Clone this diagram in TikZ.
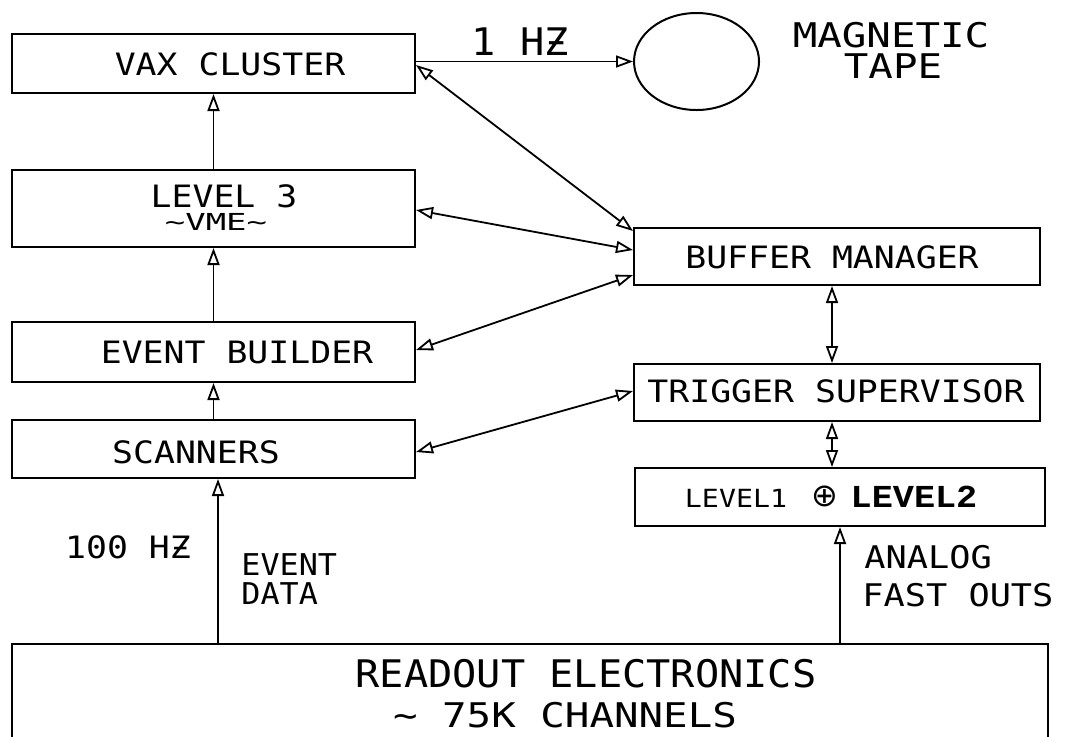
\documentclass[tikz,border=0pt]{standalone}
\usepackage{fontspec}
\usetikzlibrary{arrows.meta,shapes.geometric}
\newfontfamily\plotA[FakeStretch=1.13]{DejaVu Sans Mono}
\newfontfamily\plotB[FakeStretch=1.06]{DejaVu Sans Mono}
\newfontfamily\plotC[FakeStretch=1.45]{DejaVu Sans Mono}
\newfontfamily\plotD[FakeStretch=1.2]{DejaVu Sans Mono}
\newfontfamily\slabfont[FakeStretch=1.1]{Liberation Mono}
\tikzset{
  box/.style n args={2}{draw, line width=1pt, inner sep=0pt,
    minimum width=#1*0.5pt, minimum height=#2*0.5pt},
  lab/.style={inner sep=0pt, anchor=base},
  labA/.style={lab, font=\plotA\fontsize{15.4}{18}\selectfont},
  labB/.style={lab, font=\plotB\fontsize{19}{22}\selectfont},
  labD/.style={lab, font=\plotD\fontsize{17}{20}\selectfont},
  labS/.style={lab, anchor=base west, font=\plotA\fontsize{15.6}{18}\selectfont},
  tipo/.tip={Triangle[open, length=8.5pt, width=6pt]},
  conn/.style={line width=0.9pt, -tipo},
  biconn/.style={line width=0.9pt, tipo-tipo},
}
\begin{document}
\begin{tikzpicture}[x=0.5pt, y=-0.5pt]
\useasboundingbox (0,0) rectangle (1068,736);
\clip (0,0) rectangle (1068,736);

% boxes
\node[box={403}{59}] (vax) at (213.5,63.5) {};
\node[box={403}{77}] (l3)  at (213.5,208.5) {};
\node[box={403}{60}] (eb)  at (213.5,352) {};
\node[box={403}{58}] (sc)  at (213.5,449) {};
\node[box={406}{57}] (bm)  at (837,256.5) {};
\node[box={406}{57}] (ts)  at (837,392.5) {};
\node[box={410}{58}] (l1)  at (840,497) {};
\node[box={1036}{160}] (ro) at (530,724) {};
\node[draw, line width=1pt, ellipse, inner sep=0pt,
      minimum width=62.5pt, minimum height=48.5pt] (tape) at (696.5,61.5) {};

% labels
\node[labA] (tvax) at (230,75) {VAX CLUSTER};
\node[labA] (tl3)  at (224,207) {LEVEL 3};
\node[lab, font=\plotC\fontsize{11.7}{14}\selectfont] (tvme) at (216,230) {\char`~VME\char`~};
\node[labA] (teb)  at (237,363) {EVENT BUILDER};
\node[labA] (tsc)  at (196,463) {SCANNERS};
\node[labA] (tbm)  at (832,268) {BUFFER MANAGER};
\node[labA] (tts)  at (836,402) {TRIGGER SUPERVISOR};
\node[lab, font=\plotA\fontsize{12.5}{14}\selectfont] (tl1a) at (736,507) {LEVEL1};
\node[lab, font=\fontspec{DejaVu Sans}\fontsize{16}{18}\selectfont] (tl1b) at (825,506) {⊕};
\node[lab, font=\slabfont\bfseries\fontsize{16}{18}\selectfont] (tl1c) at (914,507) {LEVEL2};
\node[labB] (thz)  at (520,55) {1 HƵ};
\node[labD] (tmag) at (891,47) {MAGNETIC};
\node[labD] (ttape) at (893,78) {TAPE};
\node[labA] (t100) at (128,558) {100 HƵ};
\node[lab, anchor=base west, font=\plotB\fontsize{15}{17}\selectfont] (tev) at (241,575) {EVENT};
\node[lab, anchor=base west, font=\plotB\fontsize{15}{17}\selectfont] (tdata) at (241,604) {DATA};
\node[labS] (tan) at (864,568) {ANALOG};
\node[labS] (tfast) at (862,606) {FAST OUTS};
\node[labB] (tro)  at (586,687) {READOUT ELECTRONICS};
\node[labD] (tch)  at (565,727) {\char`~{} 75K CHANNELS};

% connectors
\draw[conn] (vax.east |- tape.west) -- (tape.west);
\draw[conn] (l3.north) -- (vax.south);
\draw[conn] (eb.north) -- (l3.south);
\draw[conn] (sc.north) -- (eb.south);
\draw[conn] (ro.north -| 218,0) -- (sc.south -| 218,0);
\draw[biconn] (vax.east |- 0,65) -- (bm.west |- 0,231);
\draw[biconn] (l3.east |- 0,210) -- (bm.west |- 0,250);
\draw[biconn] (eb.east |- 0,350) -- (bm.west |- 0,275);
\draw[biconn] (sc.east |- 0,452) -- (ts.west |- 0,391);
\draw[biconn] (bm.south -| 832,0) -- (ts.north -| 832,0);
\draw[biconn] (ts.south -| 832,0) -- (l1.north -| 832,0);
\draw[conn] (ro.north -| 840,0) -- (l1.south -| 840,0);
\end{tikzpicture}
\end{document}
